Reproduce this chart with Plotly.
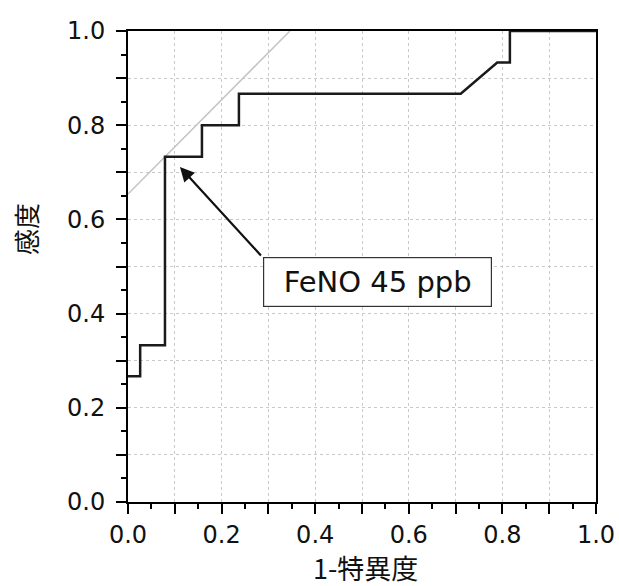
import plotly.graph_objects as go

# ROC curve vertices for FeNO (1 - specificity, sensitivity)
fpr = [0.0, 0.026, 0.026, 0.079, 0.079, 0.158, 0.158, 0.237, 0.237, 0.711, 0.789, 0.816, 0.816, 1.0]
tpr = [0.267, 0.267, 0.333, 0.333, 0.733, 0.733, 0.800, 0.800, 0.867, 0.867, 0.933, 0.933, 1.0, 1.0]

# Tangent line through the chosen cut-off (slope 1)
tangent_x = [0.0, 0.346]
tangent_y = [0.654, 1.0]

cutoff_label = "FeNO 45 ppb"
cutoff_point = (0.111, 0.711)
label_anchor = (0.287, 0.520)
label_center = (0.533, 0.467)

tick_vals = [round(i * 0.1, 1) for i in range(11)]
tick_text = [f"{v:.1f}" if i % 2 == 0 else "" for i, v in enumerate(tick_vals)]

latin = "DejaVu Sans"
cjk = "Noto Sans CJK JP"

W, H = 619, 586
ML, MR, MT, MB = 128, 23, 31, 84
plot_w = W - ML - MR
plot_h = H - MT - MB

fig = go.Figure()
fig.add_trace(go.Scatter(x=tangent_x, y=tangent_y, mode="lines",
                         line=dict(color="#c4c4c4", width=1.5), hoverinfo="skip"))
fig.add_trace(go.Scatter(x=fpr, y=tpr, mode="lines",
                         line=dict(color="#1a1a1a", width=2.5), hoverinfo="skip"))

axis_common = dict(
    range=[0, 1], tickvals=tick_vals, ticktext=tick_text,
    ticks="outside", ticklen=10, tickwidth=2, tickcolor="black",
    minor=dict(dtick=0.05, tick0=0, ticks="outside", ticklen=5, tickwidth=2,
               tickcolor="black", showgrid=False),
    showline=True, linecolor="black", linewidth=2, mirror=True,
    showgrid=True, gridcolor="#c9c9c9", gridwidth=1, griddash="dot",
    zeroline=False, automargin=False,
    tickfont=dict(family=latin, size=24, color="#111"),
)

fig.update_xaxes(**axis_common, ticklabelstandoff=0)
fig.update_yaxes(**axis_common, ticklabelstandoff=6)

# Arrow pointing at the cut-off
fig.add_annotation(x=cutoff_point[0], y=cutoff_point[1], ax=label_anchor[0], ay=label_anchor[1],
                   xref="x", yref="y", axref="x", ayref="y", text="",
                   showarrow=True, arrowhead=2, arrowsize=1.3, arrowwidth=2.2,
                   arrowcolor="#111")
# Boxed label
fig.add_annotation(x=label_center[0], y=label_center[1], xref="x", yref="y",
                   text=cutoff_label, showarrow=False,
                   font=dict(family=latin, size=29, color="#111"),
                   bgcolor="white", bordercolor="#333", borderwidth=1.2,
                   width=225, height=46, align="center")

# Axis titles, positioned in pixels relative to the plot area
fig.add_annotation(x=(25 - ML) / plot_w, y=(H - MB - 229) / plot_h,
                   xref="paper", yref="paper", xanchor="center", yanchor="middle",
                   text="感度", showarrow=False, textangle=-90,
                   font=dict(family=cjk, size=26, color="#111"))
fig.add_annotation(x=(365 - ML) / plot_w, y=(H - MB - 567) / plot_h,
                   xref="paper", yref="paper", xanchor="center", yanchor="middle",
                   text="1-特異度", showarrow=False,
                   font=dict(family=cjk, size=27, color="#111"))

fig.update_layout(
    width=W, height=H,
    margin=dict(l=ML, r=MR, t=MT, b=MB, autoexpand=False),
    paper_bgcolor="white", plot_bgcolor="white",
    showlegend=False,
)

fig.write_html("out.html")
